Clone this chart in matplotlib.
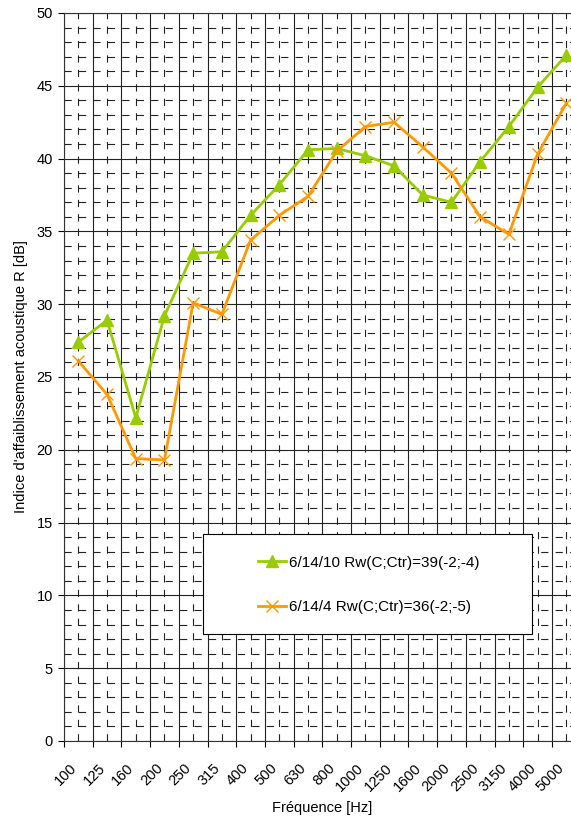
import numpy as np
import matplotlib
matplotlib.use('Agg')
from matplotlib import pyplot as plt
from matplotlib import transforms
from matplotlib.patches import Rectangle

plt.rcParams['font.family'] = ['Liberation Sans', 'DejaVu Sans']

freqs = ['100', '125', '160', '200', '250', '315', '400', '500', '630', '800',
         '1000', '1250', '1600', '2000', '2500', '3150', '4000', '5000']

r_6_14_10 = [27.4, 28.9, 22.2, 29.2, 33.5, 33.6, 36.1, 38.2, 40.6, 40.7,
             40.2, 39.5, 37.5, 37.0, 39.8, 42.2, 44.9, 47.1]
r_6_14_4 = [26.1, 23.8, 19.4, 19.3, 30.1, 29.3, 34.4, 36.1, 37.4, 40.5,
            42.2, 42.5, 40.8, 39.0, 36.0, 34.8, 40.3, 43.8]

label_10 = '6/14/10 Rw(C;Ctr)=39(-2;-4)'
label_4 = '6/14/4 Rw(C;Ctr)=36(-2;-5)'

W, H = 571, 817
fig = plt.figure(figsize=(W / 100, H / 100), dpi=100)
# plot area runs past the right edge of the picture, as in the original
ax = fig.add_axes([64 / W, 76 / H, 516.6 / W, 728 / H])

x = np.arange(len(freqs))
ax.plot(x, r_6_14_10, color='#99CC00', lw=2, marker='^', ms=8,
        label=label_10, zorder=3)
ax.plot(x, r_6_14_4, color='#FF9900', lw=2, marker='x', ms=8, mew=1,
        label=label_4, zorder=3)

ax.set_xlim(-0.5, len(freqs) - 0.5)
ax.set_ylim(0, 50)
ax.set_xticks(x)
ax.set_xticklabels(freqs, rotation=45, ha='right', va='center',
                   rotation_mode='anchor', fontsize=10.5)
ax.set_xticks(np.arange(len(freqs) + 1) - 0.5, minor=True)
ax.set_yticks(np.arange(0, 51, 5))
ax.set_yticks(np.arange(0, 51, 1), minor=True)
ax.tick_params(axis='y', which='major', labelsize=10.5, length=4, width=0.8,
               pad=4)
ax.tick_params(axis='y', which='minor', length=0)
ax.tick_params(axis='x', which='major', length=0, pad=18)
ax.tick_params(axis='x', which='minor', length=4, width=0.8)

offset = transforms.ScaledTranslation(-4 / 100, 0, fig.dpi_scale_trans)
for lab in ax.get_xticklabels():
    lab.set_transform(lab.get_transform() + offset)

solid = dict(color='#222222', lw=0.8, ls='-')
dashed = dict(color='#222222', lw=0.8, ls=(0, (6.5, 6.5)))
ax.grid(True, axis='y', which='major', **solid)
ax.grid(True, axis='x', which='minor', **solid)
ax.grid(True, axis='y', which='minor', **dashed)
ax.grid(True, axis='x', which='major', **dashed)
ax.set_axisbelow(True)

for s in ax.spines.values():
    s.set_color('#333333')
    s.set_linewidth(0.8)

ax.set_xlabel('Fréquence [Hz]', fontsize=10.5, labelpad=5)
ax.set_ylabel("Indice d'affaiblissement acoustique R [dB]", fontsize=10.5,
              labelpad=6)

# legend box (Excel style: large white frame, entries centred)
box = Rectangle((203 / W, 1 - 634 / H), 329 / W, 100 / H,
                transform=fig.transFigure, facecolor='white',
                edgecolor='black', lw=0.8, zorder=4)
ax.add_artist(box)
leg = ax.legend(loc='center', bbox_to_anchor=(369 / W, 1 - 585 / H),
                bbox_transform=fig.transFigure, frameon=False, fontsize=11,
                handlelength=1.8, handletextpad=0.25, labelspacing=2.0,
                borderpad=0)
leg.set_zorder(5)

fig.savefig('out.png', dpi=100)
